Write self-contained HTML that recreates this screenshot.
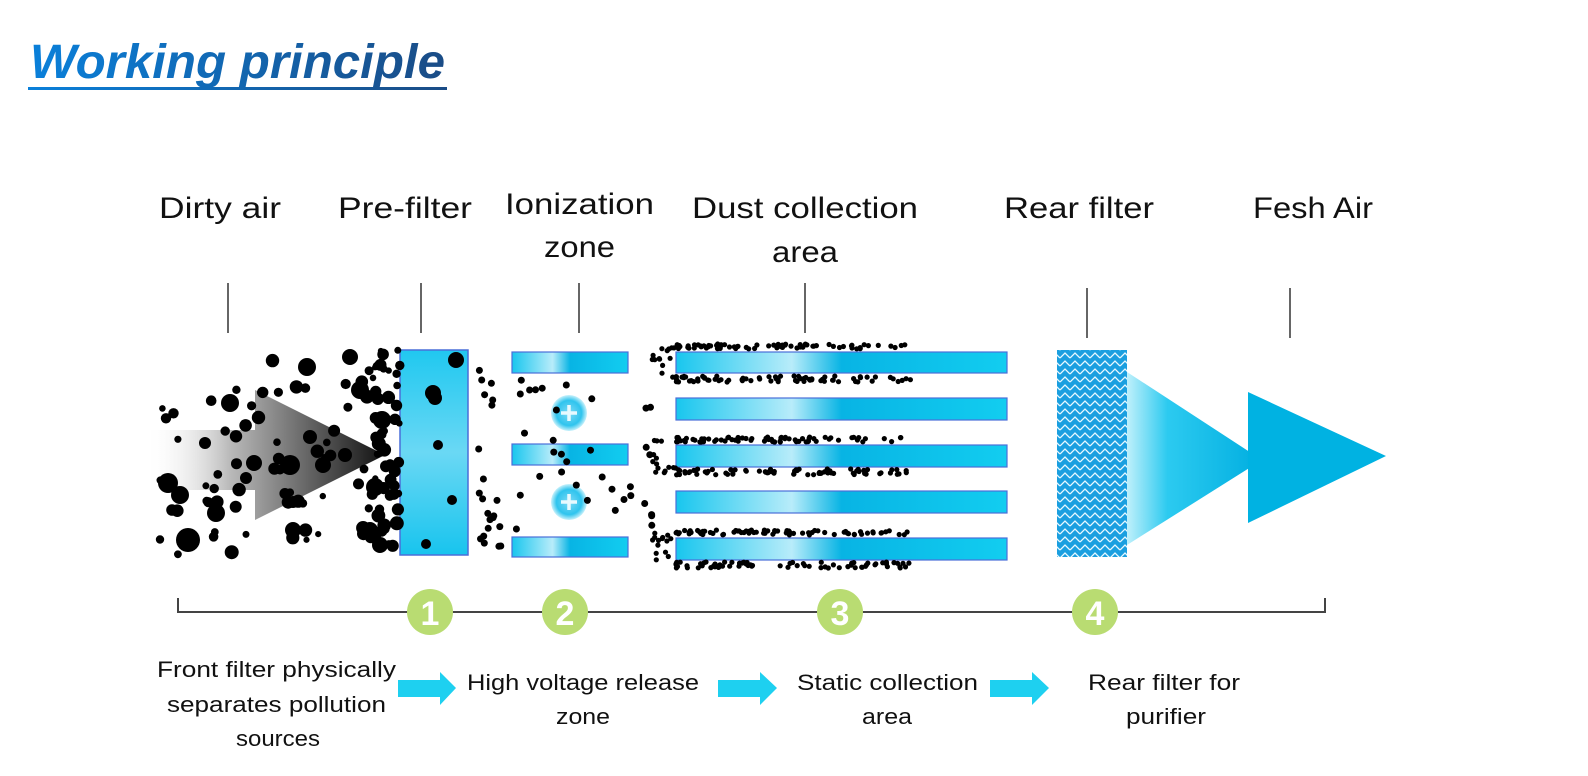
<!DOCTYPE html>
<html><head><meta charset="utf-8"><style>
html,body{margin:0;padding:0;background:#fff;width:1588px;height:776px;overflow:hidden}
svg{display:block}
text{font-family:"Liberation Sans",sans-serif;fill:#111}
</style></head><body>
<svg id="s" width="1588" height="776" viewBox="0 0 1588 776" xmlns="http://www.w3.org/2000/svg">
<defs>
<linearGradient id="tg" x1="0" x2="1"><stop offset="0" stop-color="#0a80da"/><stop offset="1" stop-color="#1a4c86"/></linearGradient>
<linearGradient id="ga" x1="0" x2="1"><stop offset="0" stop-color="#fff" stop-opacity="0"/><stop offset="0.35" stop-color="#bbb"/><stop offset="1" stop-color="#111"/></linearGradient>
<linearGradient id="pl" x1="0" x2="1"><stop offset="0" stop-color="#18c6ee"/><stop offset="0.35" stop-color="#b8ecfa"/><stop offset="0.5" stop-color="#08b4e4"/><stop offset="1" stop-color="#12cdf0"/></linearGradient>
<linearGradient id="pf" x1="0" x2="0" y1="0" y2="1"><stop offset="0" stop-color="#20c8f0"/><stop offset="0.5" stop-color="#6ad8f4"/><stop offset="1" stop-color="#18c4ee"/></linearGradient>
<linearGradient id="ba" x1="0" x2="1"><stop offset="0" stop-color="#bff0fb"/><stop offset="0.3" stop-color="#2ccaf0"/><stop offset="1" stop-color="#00aee0"/></linearGradient>
<radialGradient id="pc"><stop offset="0" stop-color="#7fdaf5"/><stop offset="0.7" stop-color="#2fc4ee"/><stop offset="1" stop-color="#c8f1fb"/></radialGradient>
<pattern id="zz" width="10" height="8" patternUnits="userSpaceOnUse"><rect width="10" height="8" fill="#1a9fe0"/><path d="M0 6 L5 1 L10 6" stroke="#e8f8ff" stroke-width="1.3" fill="none"/></pattern>
</defs>

<text x="30" y="78" font-size="48" font-weight="bold" font-style="italic" textLength="415" lengthAdjust="spacingAndGlyphs" style="fill:url(#tg)">Working principle</text>
<rect x="28" y="87" width="419" height="3" fill="url(#tg)"/>

<g font-size="30">
<text x="159" y="218" textLength="122" lengthAdjust="spacingAndGlyphs">Dirty air</text>
<text x="338" y="218" textLength="134" lengthAdjust="spacingAndGlyphs">Pre-filter</text>
<text x="505" y="214" textLength="149" lengthAdjust="spacingAndGlyphs">Ionization</text>
<text x="544" y="257" textLength="71" lengthAdjust="spacingAndGlyphs">zone</text>
<text x="692" y="218" textLength="226" lengthAdjust="spacingAndGlyphs">Dust collection</text>
<text x="772" y="262" textLength="66" lengthAdjust="spacingAndGlyphs">area</text>
<text x="1004" y="218" textLength="150" lengthAdjust="spacingAndGlyphs">Rear filter</text>
<text x="1253" y="218" textLength="120" lengthAdjust="spacingAndGlyphs">Fesh Air</text>
</g>

<g stroke="#333" stroke-width="1.5">
<line x1="228" y1="283" x2="228" y2="333"/><line x1="421" y1="283" x2="421" y2="333"/>
<line x1="579" y1="283" x2="579" y2="333"/><line x1="805" y1="283" x2="805" y2="333"/>
<line x1="1087" y1="288" x2="1087" y2="338"/><line x1="1290" y1="288" x2="1290" y2="338"/>
</g>

<polygon points="145,430 255,430 255,390 385,455 255,520 255,490 145,490" fill="url(#ga)"/>

<rect x="400" y="350" width="68" height="205" fill="url(#pf)" stroke="#4a6fd8" stroke-width="1.5"/>

<g fill="url(#pl)" stroke="#4a6fd8" stroke-width="1.2">
<rect x="512" y="352" width="116" height="21"/><rect x="512" y="444" width="116" height="21"/><rect x="512" y="537" width="116" height="20"/>
<rect x="676" y="352" width="331" height="21"/><rect x="676" y="398" width="331" height="22"/><rect x="676" y="445" width="331" height="22"/><rect x="676" y="491" width="331" height="22"/><rect x="676" y="538" width="331" height="22"/>
</g>
<g>
<circle cx="569" cy="413" r="18" fill="url(#pc)"/><circle cx="569" cy="502" r="18" fill="url(#pc)"/>
<path d="M561 413h16M569 405v16M561 502h16M569 494v16" stroke="#e8faff" stroke-width="3.5"/>
</g>

<rect x="1057" y="350" width="70" height="207" fill="url(#zz)"/>
<polygon points="1127,372 1262,460 1127,545" fill="url(#ba)"/>
<polygon points="1248,392 1386,456 1248,523" fill="#00b2e2"/>

<g id="dots" fill="#000"></g>

<g stroke="#444" stroke-width="2" fill="none">
<path d="M178 598 V612 H1325 V598"/>
</g>
<g font-size="34" font-weight="bold" text-anchor="middle">
<circle cx="430" cy="612" r="23" fill="#b9dc72"/><text x="430" y="625" style="fill:#fff">1</text>
<circle cx="565" cy="612" r="23" fill="#b9dc72"/><text x="565" y="625" style="fill:#fff">2</text>
<circle cx="840" cy="612" r="23" fill="#b9dc72"/><text x="840" y="625" style="fill:#fff">3</text>
<circle cx="1095" cy="612" r="23" fill="#b9dc72"/><text x="1095" y="625" style="fill:#fff">4</text>
</g>

<g font-size="22">
<text x="157" y="677" textLength="239" lengthAdjust="spacingAndGlyphs">Front filter physically</text>
<text x="167" y="712" textLength="219" lengthAdjust="spacingAndGlyphs">separates pollution</text>
<text x="236" y="746" textLength="84" lengthAdjust="spacingAndGlyphs">sources</text>
<text x="467" y="690" textLength="232" lengthAdjust="spacingAndGlyphs">High voltage release</text>
<text x="556" y="724" textLength="54" lengthAdjust="spacingAndGlyphs">zone</text>
<text x="797" y="690" textLength="181" lengthAdjust="spacingAndGlyphs">Static collection</text>
<text x="862" y="724" textLength="50" lengthAdjust="spacingAndGlyphs">area</text>
<text x="1088" y="690" textLength="152" lengthAdjust="spacingAndGlyphs">Rear filter for</text>
<text x="1126" y="724" textLength="80" lengthAdjust="spacingAndGlyphs">purifier</text>
</g>
<g fill="#1ed0f0">
<polygon points="398,680 440,680 440,672 456,688 440,705 440,697 398,697"/>
<polygon points="718,680 760,680 760,672 777,688 760,705 760,697 718,697"/>
<polygon points="990,680 1032,680 1032,672 1049,688 1032,705 1032,697 990,697"/>
</g>
</svg>
<script>
var g=document.getElementById('dots'),seed=7;
function r(){seed=(seed*16807)%2147483647;return seed/2147483647;}
function c(x,y,rad){var e=document.createElementNS('http://www.w3.org/2000/svg','circle');e.setAttribute('cx',x.toFixed(1));e.setAttribute('cy',y.toFixed(1));e.setAttribute('r',rad.toFixed(1));g.appendChild(e);}
var big=[[188,540,12],[180,495,9],[168,483,10],[230,403,9],[307,367,9],[350,357,8],[310,437,7],[382,420,9],[375,487,9],[345,455,7],[323,465,8],[293,530,8],[293,502,6],[216,513,9],[246,478,6],[205,443,6],[254,463,8],[433,393,8],[435,398,7],[456,360,8],[360,390,9],[370,530,8],[380,545,8],[290,465,10]];
big.forEach(function(b){c(b[0],b[1],b[2]);});
for(var i=0;i<70;i++){var x=160+r()*230,y=360+r()*195;c(x,y,3+r()*4);}
for(i=0;i<45;i++){c(372+r()*28,350+r()*205,3+r()*4);}
c(438,445,5);c(452,500,5);c(426,544,5);
for(i=0;i<22;i++){c(478+r()*24,355+r()*200,3.5);}
for(i=0;i<26;i++){c(515+r()*120,380+r()*150,3.5);}
for(i=0;i<8;i++){c(643+r()*10,360+r()*190,3.5);}
[352,445,538].forEach(function(py){
 for(var k=0;k<75;k++){var x=676+Math.pow(r(),1.4)*235;c(x,py-3-r()*5,2.6);}
 for(var k=0;k<75;k++){var x=676+Math.pow(r(),1.4)*235;c(x,py+24+r()*6,2.6);}
 for(var k=0;k<14;k++){c(652+r()*24,py-6+r()*34,2.6);}
});
</script>
</body></html>
